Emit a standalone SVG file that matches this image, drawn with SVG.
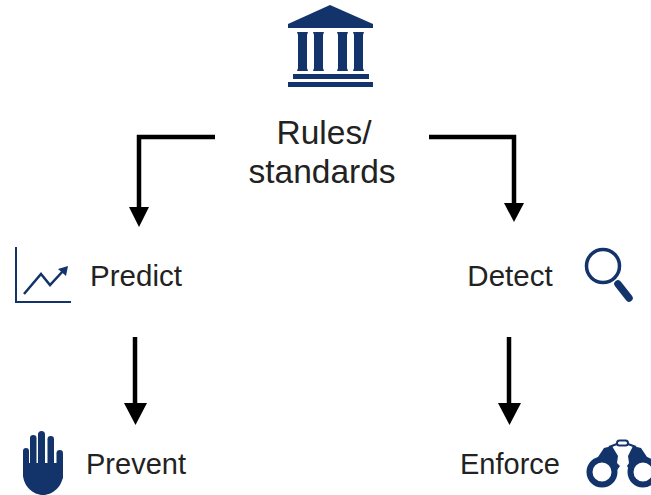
<svg xmlns="http://www.w3.org/2000/svg" width="651" height="495" viewBox="0 0 651 495">
<style>
text{font-family:"Liberation Sans",Arial,sans-serif;font-size:29.500px;fill:#222;text-anchor:middle}
.big{font-size:33.500px}
.low{font-size:29px}
.i{fill:#12346a}
.o{fill:none;stroke:#12346a}
.c{fill:none;stroke:#000;stroke-width:4.500}
</style>
<rect width="651" height="495" fill="#fff"/>
<g id="connectors">
<path class="c" d="M215 137H139V207"/>
<path d="M129 207H149L139 227Z"/>
<path class="c" d="M429 137H514V203"/>
<path d="M504 203H524L514 222Z"/>
<path class="c" d="M135 337V403"/>
<path d="M124 403H147L135.500 425Z"/>
<path class="c" d="M509 337V403"/>
<path d="M498 403H521L509.500 425Z"/>
</g>
<g id="rules">
<path class="i" d="M330 5L373 24V28H288V24Z"/>
<path class="i" d="M297 32H308L307 35V68L308 71H297L298 68V35ZM313 32H324L323 35V68L324 71H313L314 68V35ZM337 32H348L347 35V68L348 71H337L338 68V35ZM353 32H364L363 35V68L364 71H353L354 68V35Z"/>
<rect class="i" x="293" y="74" width="76" height="5"/>
<rect class="i" x="288" y="82" width="85" height="5"/>
<text class="big" x="324" y="144">Rules/</text>
<text class="big" x="322" y="183">standards</text>
</g>
<g id="predict">
<path class="o" stroke-width="2" d="M16 247V302H71"/>
<path class="o" stroke-width="2.500" d="M24 294L41 274L50 285L63 271"/>
<path class="i" d="M58 269L68 266L66 276Z"/>
<text x="136" y="286">Predict</text>
</g>
<g id="detect">
<text x="510" y="286">Detect</text>
<circle class="o" stroke-width="3.500" cx="603" cy="266" r="16.500"/>
<path class="o" stroke-width="7.500" stroke-linecap="round" d="M618 284L629 298"/>
</g>
<g id="prevent">
<rect class="i" x="23" y="448" width="6" height="30" rx="3"/>
<rect class="i" x="30" y="435" width="6.500" height="40" rx="3.200"/>
<rect class="i" x="38" y="431" width="7" height="40" rx="3.500"/>
<rect class="i" x="47.500" y="436" width="6.500" height="40" rx="3.200"/>
<rect class="i" x="56.500" y="450" width="6.500" height="30" rx="3.200"/>
<path class="i" d="M23 463H63V474C63 486 53 495 43 495C33 495 23 486 23 474Z"/>
<text class="low" x="136" y="474">Prevent</text>
</g>
<g id="enforce">
<text class="low" x="510" y="474">Enforce</text>
<circle class="o" stroke-width="6" cx="602" cy="472" r="12.500"/>
<circle class="o" stroke-width="6" cx="643" cy="472" r="12.500"/>
<path class="i" d="M604 448L612 446L618 456L617 463L620 466L615 473L611 462L596 460Z"/>
<path class="i" d="M641 448L633 446L628 456L629 463L627 466L631 473L634 462L649 460Z"/>
<rect class="o" stroke-width="2" x="617" y="440.500" width="11" height="5" rx="2.500"/>
<path class="o" stroke-width="2" d="M609 447L617 444M636 447L628 444"/>
</g>
</svg>
